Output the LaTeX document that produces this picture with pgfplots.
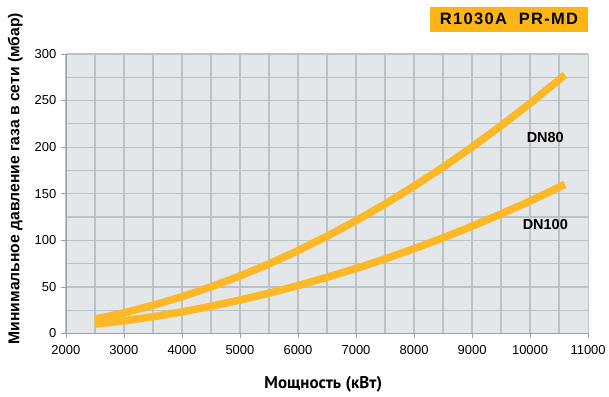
\documentclass[border=0pt]{standalone}
\usepackage{fontspec}
\setmainfont{Liberation Sans}
\newfontfamily\xlabfont{PT Sans}
\usepackage{pgfplots}
\pgfplotsset{compat=1.18}
\definecolor{bgc}{HTML}{E4E7E9}
\definecolor{gridc}{HTML}{BAC3C8}
\definecolor{axc}{HTML}{9AA3A8}
\definecolor{curve}{HTML}{FDB827}
\definecolor{boxc}{HTML}{FDB515}
\begin{document}
\begin{tikzpicture}[x=1pt,y=1pt]
\path (0,0) rectangle (609,397);
\begin{axis}[
  at={(66pt,63pt)}, anchor=south west,
  scale only axis, width=523pt, height=280pt,
  xmin=2000, xmax=11000, ymin=0, ymax=300,
  xtick={2000,3000,...,11000},
  minor xtick={2500,3500,...,10500},
  ytick={0,50,...,300},
  minor ytick={25,75,...,275},
  scaled ticks=false,
  grid=both,
  major grid style={gridc, line width=1.2pt},
  minor grid style={gridc, line width=1.2pt},
  axis background/.style={fill=bgc},
  axis x line*=bottom, axis y line*=left,
  axis line style={axc, line width=0.8pt, -},
  tick align=outside, major tick length=5pt, minor tick length=0pt,
  tick style={axc, line width=0.8pt},
  /pgf/number format/assume math mode=true,
  /pgf/number format/set thousands separator={},
  tick label style={font=\fontsize{13}{14}\selectfont, text=black},
  xticklabel style={yshift=-3pt},
  yticklabel style={xshift=-1pt},
  xlabel={Мощность (кВт)},
  xlabel style={font=\xlabfont\bfseries\fontsize{17}{18}\selectfont, at={(axis description cs:0.493,-0.182)}, anchor=center},
  ylabel={\textbf{Минимальное давление газа в сети (мбар)}},
  ylabel style={font=\fontsize{15.7}{16}\selectfont, at={(axis description cs:-0.097,0.554)}, anchor=center},
  clip=false,
]
\addplot[curve, line width=7.5pt, line cap=butt] coordinates {
(2500,15.4) (3000,22.2) (3500,30.3) (4000,39.5) (4500,50.0) (5000,61.8)
(5500,74.7) (6000,88.9) (6500,104.4) (7000,121.0) (7500,138.9) (8000,158.1)
(8500,178.5) (9000,200.1) (9500,222.9) (10000,247.0) (10600,277.5)};
\addplot[curve, line width=7.5pt, line cap=butt] coordinates {
(2500,10.0) (3000,13.6) (3500,18.0) (4000,23.2) (4500,29.2) (5000,35.9)
(5500,43.3) (6000,51.4) (6500,60.3) (7000,69.8) (7500,80.0) (8000,91.0)
(8500,102.7) (9000,115.1) (9500,128.3) (10000,142.1) (10600,160.0)};
\node[font=\bfseries\fontsize{14.5}{15}\selectfont] at (axis cs:10262,210) {DN80};
\node[font=\bfseries\fontsize{14.5}{15}\selectfont] at (axis cs:10262,117) {DN100};
\node[fill=boxc, anchor=south east, inner sep=0pt, minimum height=25pt, minimum width=158pt,
  font=\bfseries\fontsize{16.5}{17}\selectfont\addfontfeature{LetterSpace=8}] at (rel axis cs:1,1.079) {R1030A\ \ PR-MD};
\end{axis}
\end{tikzpicture}
\end{document}
